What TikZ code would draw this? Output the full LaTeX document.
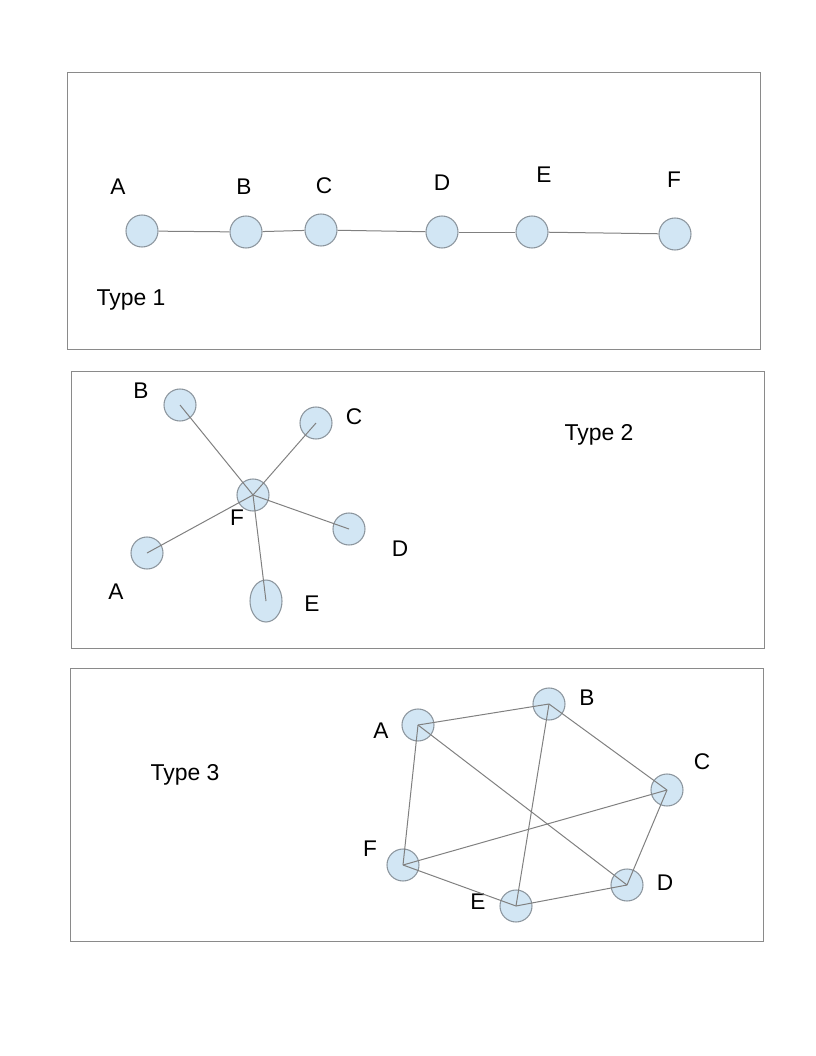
\documentclass[tikz,border=0pt]{standalone}
\usepackage{fontspec}
\setmainfont{Liberation Sans}
\usepackage{xcolor}
\definecolor{gfill}{HTML}{D2E6F4}
\definecolor{gline}{HTML}{8C969E}
\definecolor{gedgec}{HTML}{808080}
\definecolor{gframe}{HTML}{8A8A8A}
\usetikzlibrary{shapes.geometric}
\tikzset{
  gnode/.style={circle,draw=gline,fill=gfill,line width=0.8pt,minimum size=24pt,inner sep=0pt},
  gegg/.style={ellipse,draw=gline,fill=gfill,line width=0.8pt,minimum width=24pt,minimum height=31.5pt,inner sep=0pt},
  glabel/.style={font=\fontsize{17}{20}\selectfont,inner sep=0pt},
  gtype/.style={font=\fontsize{17.2}{20}\selectfont,inner sep=0pt},
  gedge/.style={draw=gedgec,line width=0.75pt},
  gpanel/.style={draw=gframe,line width=0.75pt},
}

\begin{document}
\begin{tikzpicture}[x=0.75pt,y=-0.75pt]
\useasboundingbox (0,0) rectangle (816,1056);
 % panels
\draw[gpanel] (67,73) rectangle (760,349);
\draw[gpanel] (71,371) rectangle (764,648);
\draw[gpanel] (70,668) rectangle (763,941);
 % type 1: chain
\node[gnode] (a1) at (142,231){};
\node[gnode] (b1) at (246,232){};
\node[gnode] (c1) at (321,230){};
\node[gnode] (d1) at (442,232){};
\node[gnode] (e1) at (532,232){};
\node[gnode] (f1) at (675,234){};
\node[glabel] (la1) at (118,187){A};
\node[glabel] (lb1) at (244,187){B};
\node[glabel] (lc1) at (324,186){C};
\node[glabel] (ld1) at (442,183){D};
\node[glabel] (le1) at (544,175){E};
\node[glabel] (lf1) at (674,180){F};
\node[gtype] (t1) at (131,300){Type 1};
\draw[gedge](a1)--(b1);\draw[gedge](b1)--(c1);\draw[gedge](c1)--(d1);
\draw[gedge](d1)--(e1);\draw[gedge](e1)--(f1);
 % type 2: star around F
\node[gnode] (b2) at (180,405){};
\node[gnode] (c2) at (316,423){};
\node[gnode] (f2) at (253,495){};
\node[gnode] (d2) at (349,529){};
\node[gnode] (a2) at (147,553){};
\node[gegg] (e2) at (266,601){};
\node[glabel] (lb2) at (141,391){B};
\node[glabel] (lc2) at (354,417){C};
\node[glabel] (lf2) at (237,518){F};
\node[glabel] (ld2) at (400,549){D};
\node[glabel] (la2) at (116,592){A};
\node[glabel] (le2) at (312,604){E};
\node[gtype] (t2) at (599,435){Type 2};
\draw[gedge](f2.center)--(b2.center);\draw[gedge](f2.center)--(c2.center);
\draw[gedge](f2.center)--(d2.center);\draw[gedge](f2.center)--(a2.center);
\draw[gedge](f2.center)--(e2.center);
 % type 3: mesh
\node[gnode] (a3) at (418,725){};
\node[gnode] (b3) at (549,704){};
\node[gnode] (c3) at (667,790){};
\node[gnode] (d3) at (627,885){};
\node[gnode] (e3) at (516,906){};
\node[gnode] (f3) at (403,865){};
\node[glabel] (la3) at (381,731){A};
\node[glabel] (lb3) at (587,698){B};
\node[glabel] (lc3) at (702,762){C};
\node[glabel] (ld3) at (665,883){D};
\node[glabel] (le3) at (478,902){E};
\node[glabel] (lf3) at (370,849){F};
\node[gtype] (t3) at (185,775){Type 3};
\draw[gedge](a3.center)--(b3.center);\draw[gedge](b3.center)--(c3.center);
\draw[gedge](c3.center)--(d3.center);\draw[gedge](a3.center)--(d3.center);
\draw[gedge](a3.center)--(f3.center);\draw[gedge](b3.center)--(e3.center);
\draw[gedge](f3.center)--(c3.center);\draw[gedge](f3.center)--(e3.center);
\draw[gedge](e3.center)--(d3.center);
\end{tikzpicture}
\end{document}
